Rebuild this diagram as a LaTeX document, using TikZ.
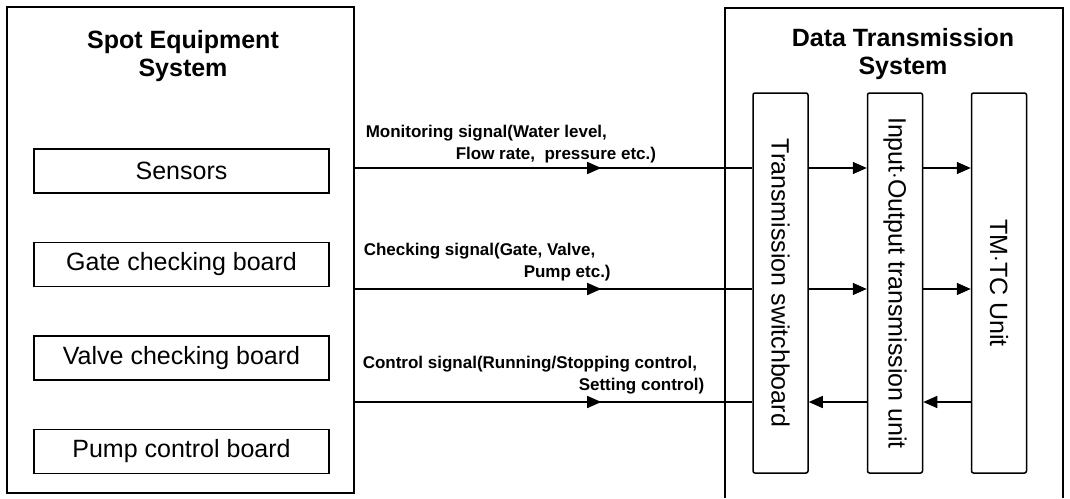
\documentclass[tikz,border=0pt]{standalone}
\usepackage{fontspec}
\setmainfont{Liberation Sans}
\usepackage{graphicx}
\usepackage{tikz}
\usetikzlibrary{positioning,arrows.meta,decorations.markings}

\begin{document}
\begin{tikzpicture}[
  x=0.5pt, y=-0.5pt,
  line width=0.75pt,
  node distance=24pt,
  every node/.style={font=\fontsize{12.5pt}{14pt}\selectfont},
  title/.style={font=\fontsize{12.5pt}{14pt}\selectfont\bfseries, align=center},
  unit/.style={draw, minimum width=147.5pt, minimum height=22pt, inner sep=0pt},
  column/.style={draw, rounded corners=1pt, minimum width=27.5pt, minimum height=190pt, inner sep=0pt},
  siglabel/.style={font=\fontsize{8.5pt}{11pt}\selectfont\bfseries, align=left, anchor=north west, inner sep=0pt},
  arr/.style={-{Triangle[length=7pt,width=6pt]}},
  sig/.style={postaction={decorate}, decoration={markings,
    mark=at position 0.62 with {\arrow{Triangle[length=7pt,width=6pt]}}}}
]
\useasboundingbox (0,0) rectangle (1070,498);

% spot equipment side
\node[draw, minimum width=173.5pt, minimum height=243pt, inner sep=0pt] (spot) at (180.5,250) {};
\node[title] (spottitle) at (183,56) {Spot Equipment\\System};
\node[unit] (sensors) at (181.5,171) {Sensors};
\node[unit, below=of sensors] (gate) {Gate checking board};
\node[unit, below=of gate] (valve) {Valve checking board};
\node[unit, below=of valve] (pump) {Pump control board};

% data transmission side
\draw (725,498) -- (725,8) -- (1063,8) -- (1063,498);
\node[title] (datatitle) at (903,54) {Data Transmission\\System};
\node[column] (switch) at (780.5,283) {\rotatebox{-90}{Transmission switchboard}};
\node[column] (io) at (895,283) {\rotatebox{-90}{Input$\cdot$Output transmission unit}};
\node[column] (tmtc) at (999,283) {\rotatebox{-90}{TM$\cdot$TC Unit}};

% signal levels
\coordinate (lvA) at (0,168);
\coordinate (lvB) at (0,289);
\coordinate (lvC) at (0,402);

% signal labels
\node[siglabel] (monlabel) at (365,124) {Monitoring signal(Water level,\\\hspace*{45pt}Flow rate,\ \ pressure etc.)};
\node[siglabel] (chklabel) at (363,242) {Checking signal(Gate, Valve,\\\hspace*{80pt}Pump etc.)};
\node[siglabel] (ctllabel) at (362,355) {Control signal(Running/Stopping control,\\\hspace*{108pt}Setting control)};

% connectors
\draw[sig] (spot.east |- lvA) -- (switch.west |- lvA);
\draw[sig] (spot.east |- lvB) -- (switch.west |- lvB);
\draw[sig] (spot.east |- lvC) -- (switch.west |- lvC);
\draw[arr] (switch.east |- lvA) -- (io.west |- lvA);
\draw[arr] (io.east |- lvA) -- (tmtc.west |- lvA);
\draw[arr] (switch.east |- lvB) -- (io.west |- lvB);
\draw[arr] (io.east |- lvB) -- (tmtc.west |- lvB);
\draw[arr] (tmtc.west |- lvC) -- (io.east |- lvC);
\draw[arr] (io.west |- lvC) -- (switch.east |- lvC);

\end{tikzpicture}
\end{document}
